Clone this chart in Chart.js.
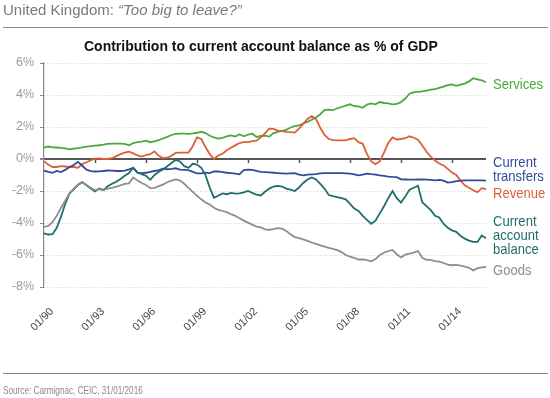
<!DOCTYPE html>
<html><head><meta charset="utf-8">
<script src="https://cdn.jsdelivr.net/npm/chart.js@4"></script>
<style>
html,body{margin:0;padding:0;background:#fff;width:550px;height:398px;overflow:hidden;}
#wrap{position:relative;width:550px;height:398px;}
canvas{position:absolute;left:0;top:0;}
.t{position:absolute;white-space:nowrap;transform-origin:0 0;}
.lbl{position:absolute;left:493px;font-family:'Liberation Sans',Arial,sans-serif;font-size:15px;line-height:14px;white-space:nowrap;transform:scaleX(0.87);transform-origin:0 0;}
</style></head><body>
<div id="wrap">
<canvas id="c" width="550" height="398" style="width:550px;height:398px"></canvas>
<div class="t" style="left:3px;top:1px;font-family:'Liberation Sans',Arial,sans-serif;font-size:15px;color:#7a7a7a">United Kingdom: <i>“Too big to leave?”</i></div>
<div style="position:absolute;left:3px;top:27px;width:545px;height:1px;background:#8a8a8a"></div>
<div class="t" style="left:84px;top:38px;font-family:'Liberation Sans',Arial,sans-serif;font-weight:bold;font-size:14.5px;color:#111;transform:scaleX(0.965)">Contribution to current account balance as % of GDP</div>
<div class="lbl" style="top:77px;color:#4ca73f">Services</div>
<div class="lbl" style="top:155px;color:#2f4c9b">Current<br>transfers</div>
<div class="lbl" style="top:186px;color:#dc5f37">Revenue</div>
<div class="lbl" style="top:214px;color:#1e6e6c">Current<br>account<br>balance</div>
<div class="lbl" style="top:263px;color:#8e8e8e">Goods</div>
<div style="position:absolute;left:3px;top:373px;width:545px;height:1px;background:#8a8a8a"></div>
<div class="t" style="left:3px;top:384px;font-family:'Liberation Sans',Arial,sans-serif;font-size:10.5px;color:#888;transform:scaleX(0.78)">Source: Carmignac, CEIC, 31/01/2016</div>
</div>
<script>
const quarters = [
"1990-Q1","1990-Q2","1990-Q3","1990-Q4","1991-Q1","1991-Q2","1991-Q3","1991-Q4",
"1992-Q1","1992-Q2","1992-Q3","1992-Q4","1993-Q1","1993-Q2","1993-Q3","1993-Q4",
"1994-Q1","1994-Q2","1994-Q3","1994-Q4","1995-Q1","1995-Q2","1995-Q3","1995-Q4",
"1996-Q1","1996-Q2","1996-Q3","1996-Q4","1997-Q1","1997-Q2","1997-Q3","1997-Q4",
"1998-Q1","1998-Q2","1998-Q3","1998-Q4","1999-Q1","1999-Q2","1999-Q3","1999-Q4",
"2000-Q1","2000-Q2","2000-Q3","2000-Q4","2001-Q1","2001-Q2","2001-Q3","2001-Q4",
"2002-Q1","2002-Q2","2002-Q3","2002-Q4","2003-Q1","2003-Q2","2003-Q3","2003-Q4",
"2004-Q1","2004-Q2","2004-Q3","2004-Q4","2005-Q1","2005-Q2","2005-Q3","2005-Q4",
"2006-Q1","2006-Q2","2006-Q3","2006-Q4","2007-Q1","2007-Q2","2007-Q3","2007-Q4",
"2008-Q1","2008-Q2","2008-Q3","2008-Q4","2009-Q1","2009-Q2","2009-Q3","2009-Q4",
"2010-Q1","2010-Q2","2010-Q3","2010-Q4","2011-Q1","2011-Q2","2011-Q3","2011-Q4",
"2012-Q1","2012-Q2","2012-Q3","2012-Q4","2013-Q1","2013-Q2","2013-Q3","2013-Q4",
"2014-Q1","2014-Q2","2014-Q3","2014-Q4","2015-Q1","2015-Q2","2015-Q3","2015-Q4",
"2016-Q1"];

const services = [
0.71,0.78,0.73,0.72, 0.70,0.66,0.60,0.65, 0.68,0.72,0.78,0.80, 0.84,0.86,0.90,0.95,
0.96,0.96,0.96,0.94, 0.86,1.00,1.05,1.08, 1.15,1.05,1.10,1.18, 1.28,1.38,1.50,1.57,
1.58,1.58,1.57,1.60, 1.64,1.70,1.62,1.45, 1.35,1.27,1.32,1.42, 1.48,1.40,1.55,1.42,
1.52,1.58,1.38,1.45, 1.46,1.40,1.62,1.70, 1.76,1.82,1.97,2.05, 2.10,2.22,2.32,2.45,
2.60,2.80,3.05,3.08, 3.05,3.17,3.25,3.33, 3.42,3.30,3.29,3.20, 3.40,3.48,3.42,3.56,
3.50,3.47,3.42,3.44, 3.55,3.78,4.08,4.18, 4.20,4.23,4.28,4.33, 4.36,4.45,4.52,4.62,
4.66,4.57,4.65,4.71, 4.85,5.05,4.98,4.92, 4.80];

const revenue = [
-0.13,-0.35,-0.50,-0.50, -0.45,-0.47,-0.50,-0.50, -0.55,-0.32,-0.20,-0.08, 0.02,0.03,0.00,0.00,
0.05,0.18,0.30,0.40, 0.46,0.35,0.22,0.15, 0.25,0.30,0.48,0.20, 0.06,0.08,0.20,0.38,
0.40,0.40,0.40,0.80, 1.35,1.25,0.75,0.30, 0.00,0.22,0.33,0.55, 0.70,0.85,1.00,1.05,
1.05,1.12,1.15,1.35, 1.60,1.90,1.88,1.78, 1.74,1.70,1.68,1.65, 1.90,2.20,2.50,2.68,
2.50,1.95,1.50,1.25, 1.18,1.17,1.17,1.17, 1.25,1.30,1.05,0.95, 0.30,-0.15,-0.33,-0.15,
0.40,1.00,1.35,1.22, 1.25,1.30,1.42,1.33, 1.20,0.85,0.45,0.15, -0.10,-0.28,-0.40,-0.62,
-0.85,-1.00,-1.35,-1.65, -1.80,-1.95,-2.08,-1.82, -1.88];

const transfers = [
-0.72,-0.80,-0.86,-0.74, -0.82,-0.68,-0.50,-0.38, -0.18,-0.42,-0.67,-0.76, -0.78,-0.77,-0.75,-0.72,
-0.73,-0.75,-0.75,-0.73, -0.65,-0.55,-0.85,-0.88, -0.86,-0.80,-0.75,-0.70, -0.60,-0.64,-0.62,-0.58,
-0.66,-0.68,-0.70,-0.80, -0.90,-0.90,-0.85,-0.88, -0.78,-0.78,-0.82,-0.86, -0.88,-0.92,-0.96,-0.70,
-0.66,-0.68,-0.74,-0.80, -0.82,-0.84,-0.86,-0.88, -0.90,-0.92,-0.90,-0.88, -0.98,-1.02,-0.98,-0.96,
-0.95,-0.90,-0.88,-0.88, -0.88,-0.88,-0.88,-0.90, -0.92,-0.96,-1.02,-0.98, -0.92,-0.95,-0.97,-1.02,
-1.06,-1.10,-1.12,-1.13, -1.27,-1.28,-1.29,-1.29, -1.28,-1.28,-1.29,-1.30, -1.33,-1.30,-1.35,-1.48,
-1.45,-1.38,-1.35,-1.33, -1.33,-1.33,-1.33,-1.34, -1.35];

const balance = [
-4.65,-4.72,-4.70,-4.30, -3.60,-2.80,-2.15,-1.90, -1.62,-1.45,-1.65,-1.85, -2.02,-1.85,-1.95,-1.70,
-1.55,-1.42,-1.25,-1.05, -0.88,-0.55,-0.85,-0.95, -1.05,-1.30,-1.00,-0.80, -0.65,-0.45,-0.25,-0.05,
-0.15,-0.45,-0.55,-0.30, -0.35,-0.55,-1.00,-1.80, -2.42,-2.30,-2.15,-2.20, -2.12,-2.16,-2.15,-2.08,
-2.00,-2.12,-2.22,-2.28, -2.05,-1.85,-1.72,-1.68, -1.72,-1.85,-1.92,-2.00, -1.78,-1.50,-1.28,-1.15,
-1.28,-1.55,-1.85,-2.25, -2.32,-2.38,-2.44,-2.52, -2.80,-3.10,-3.25,-3.55, -3.80,-4.05,-3.85,-3.40,
-2.95,-2.45,-2.00,-2.45, -2.72,-2.35,-1.92,-1.80, -1.68,-2.70,-2.95,-3.20, -3.55,-3.65,-4.04,-4.30,
-4.46,-4.55,-4.80,-4.98, -5.10,-5.18,-5.18,-4.78, -4.95];

const goods = [
-4.25,-4.18,-3.95,-3.55, -3.05,-2.60,-2.15,-1.85, -1.60,-1.45,-1.62,-1.80, -1.96,-1.88,-1.92,-1.85,
-1.80,-1.72,-1.65,-1.55, -1.52,-1.15,-1.35,-1.50, -1.62,-1.82,-1.80,-1.70, -1.60,-1.45,-1.35,-1.28,
-1.35,-1.55,-1.80,-2.05, -2.30,-2.52,-2.72,-2.85, -3.05,-3.18,-3.25,-3.32, -3.45,-3.55,-3.70,-3.85,
-3.98,-4.10,-4.22,-4.28, -4.40,-4.42,-4.38,-4.32, -4.35,-4.50,-4.70,-4.88, -4.95,-5.02,-5.12,-5.22,
-5.30,-5.40,-5.48,-5.55, -5.62,-5.70,-5.82,-6.00, -6.10,-6.18,-6.28,-6.28, -6.32,-6.40,-6.25,-6.02,
-5.85,-5.75,-5.68,-5.95, -6.15,-5.98,-5.92,-5.85, -5.75,-6.18,-6.30,-6.30, -6.38,-6.42,-6.50,-6.60,
-6.64,-6.62,-6.66,-6.72, -6.80,-6.96,-6.82,-6.78, -6.75];

const yTicks = [-8,-6,-4,-2,0,2,4,6];

const COLORS = {services:'#4ca73f', revenue:'#dc5f37', transfers:'#2f4c9b', balance:'#1e6e6c', goods:'#8e8e8e'};
const FONT = "'Liberation Sans',Arial,sans-serif";

function ds(label, data, color){
  return {label, data, borderColor:color, backgroundColor:color, borderWidth:1.8,
          pointRadius:0, pointHoverRadius:0, tension:0, fill:false};
}

const zeroTicks = {
  id:'zeroTicks',
  beforeDatasetsDraw(chart){
    const {ctx, scales:{x, y}} = chart;
    const y0 = y.getPixelForValue(0);
    ctx.save();
    ctx.strokeStyle = '#555';
    ctx.lineWidth = 1.5;
    quarters.forEach((q, i) => {
      if (i > 0 && i % 12 === 0) {
        const px = Math.round(x.getPixelForValue(i)) + 0.5;
        ctx.beginPath(); ctx.moveTo(px, y0); ctx.lineTo(px, y0 + 4); ctx.stroke();
      }
    });
    ctx.restore();
  }
};

new Chart(document.getElementById('c'), {
  type:'line',
  data:{
    labels: quarters,
    datasets:[
      ds('Goods', goods, COLORS.goods),
      ds('Current account balance', balance, COLORS.balance),
      ds('Current transfers', transfers, COLORS.transfers),
      ds('Revenue', revenue, COLORS.revenue),
      ds('Services', services, COLORS.services)
    ]
  },
  options:{
    responsive:false, animation:false, events:[],
    layout:{padding:{left:0, right:64, top:63, bottom:41}},
    plugins:{legend:{display:false}, tooltip:{enabled:false}},
    scales:{
      x:{
        type:'category', offset:false,
        grid:{display:false}, border:{display:false},
        ticks:{autoSkip:false, maxRotation:45, minRotation:45, padding:10, labelOffset:8, color:'#444',
               font:{family:FONT, size:11},
               callback:(v, i) => i % 12 === 0 ? '01/' + quarters[i].slice(2,4) : ''},
        afterFit:s => { s.height = 70; }
      },
      y:{
        min:-8, max:6,
        afterBuildTicks:s => { s.ticks = yTicks.map(v => ({value:v})); },
        ticks:{callback:v => v + '%', color:'#9a9a9a', padding:6, font:{family:FONT, size:12.5}},
        grid:{
          color:c => (c.tick && c.tick.value === 0) ? '#555' : '#cdcdcd',
          lineWidth:c => (c.tick && c.tick.value === 0) ? 2 : 1,
          tickColor:'#888', tickLength:4, tickBorderDash:[], drawTicks:true
        },
        border:{color:'#888', width:1.2, dash:c => (c.tick && c.tick.value === 0) ? [] : [1,2]},
        afterFit:s => { s.width = 44; }
      }
    }
  },
  plugins:[zeroTicks]
});
</script>
</body></html>
